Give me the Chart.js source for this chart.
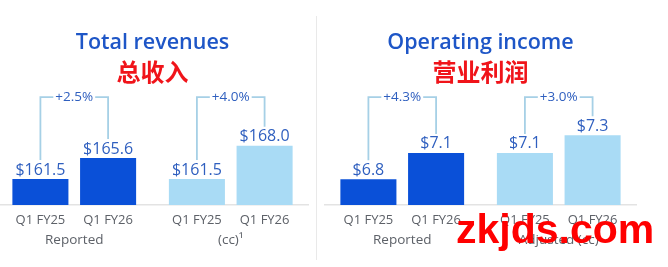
<!DOCTYPE html>
<html>
<head>
<meta charset="utf-8">
<script src="https://cdn.jsdelivr.net/npm/chart.js@4/dist/chart.umd.min.js"></script>
<style>
  html, body { margin: 0; padding: 0; background: #ffffff; }
  body { width: 668px; height: 267px; position: relative; overflow: hidden; }
  .panel { position: absolute; top: 0; width: 313px; height: 267px; }
  #sep { position: absolute; left: 316px; top: 16px; width: 1px; height: 244px; background: #e9e9e9; }
  #wm { position: absolute; left: 456px; top: 209px; font-family: "Liberation Sans", Arial, sans-serif;
        font-weight: bold; font-size: 41px; color: #ff0000; line-height: 1; letter-spacing: 0px; }
</style>
</head>
<body>
<div class="panel" style="left:-4px"><canvas id="rev" width="313" height="267"></canvas></div>
<div id="sep"></div>
<div class="panel" style="left:324px"><canvas id="inc" width="313" height="267"></canvas></div>
<div id="wm">zkjds.com</div>
<script>
// ---- data ----
const periods = ["Q1 FY25", "Q1 FY26"];

const revenueTitle = "Total revenues";
const revenueTitleCn = "总收入";
const revenueGroups = ["Reported", "(cc)¹"];
const revenueFY25 = [161.5, 161.5];
const revenueFY26 = [165.6, 168.0];
const revenueGrowth = ["+2.5%", "+4.0%"];

const incomeTitle = "Operating income";
const incomeTitleCn = "营业利润";
const incomeGroups = ["Reported", "Adjusted (cc)"];
const incomeFY25 = [6.8, 7.1];
const incomeFY26 = [7.1, 7.3];
const incomeGrowth = ["+4.3%", "+3.0%"];

// ---- style ----
const DARK = "#0a50d8";
const LIGHT = "#a9dbf5";
const VALUE_COLOR = "#2f5fbf";
const TITLE_COLOR = "#1e56c7";
const CN_COLOR = "#f0141a";
const BRACKET = "#a6d0e6";
const GRAY = "#5d6168";
const FONT = "'Open Sans', 'Noto Sans', sans-serif";

const overlayPlugin = {
  id: "overlay",
  afterDatasetsDraw(chart, args, opts) {
    const ctx = chart.ctx;
    const area = chart.chartArea;
    const m0 = chart.getDatasetMeta(0);
    const m1 = chart.getDatasetMeta(1);
    ctx.save();
    ctx.textAlign = "center";
    ctx.textBaseline = "middle";
    ctx.fillStyle = VALUE_COLOR;
    ctx.font = "16px " + FONT;
    [m0, m1].forEach((meta, di) => {
      meta.data.forEach((bar, i) => {
        const v = chart.data.datasets[di].data[i];
        ctx.fillText("$" + v.toFixed(1), bar.x, bar.y - 9);
      });
    });
    ctx.fillStyle = GRAY;
    ctx.font = "13px " + FONT;
    [m0, m1].forEach((meta, di) => {
      meta.data.forEach((bar) => {
        ctx.fillText(periods[di], bar.x, area.bottom + 15.5);
      });
    });
    const topY = area.top + 6.6;
    ctx.strokeStyle = BRACKET;
    ctx.lineWidth = 1.8;
    ctx.font = "13.5px " + FONT;
    opts.growth.forEach((g, i) => {
      const a = m0.data[i], b = m1.data[i];
      const cx = (a.x + b.x) / 2;
      const w = ctx.measureText(g).width;
      ctx.beginPath();
      ctx.moveTo(a.x, a.y - 19);
      ctx.lineTo(a.x, topY);
      ctx.lineTo(cx - w / 2 - 2, topY);
      ctx.moveTo(cx + w / 2 + 2, topY);
      ctx.lineTo(b.x, topY);
      ctx.lineTo(b.x, b.y - 19);
      ctx.stroke();
      ctx.fillStyle = VALUE_COLOR;
      ctx.fillText(g, cx, topY);
    });
    ctx.restore();
  }
};

function makeChart(id, title, titleCn, groups, s25, s26, growth, yMin, yMax) {
  return new Chart(document.getElementById(id), {
    type: "bar",
    data: {
      labels: groups,
      datasets: [
        { label: periods[0], data: s25, backgroundColor: [DARK, LIGHT], borderWidth: 0 },
        { label: periods[1], data: s26, backgroundColor: [DARK, LIGHT], borderWidth: 0 }
      ]
    },
    options: {
      responsive: false,
      animation: false,
      layout: { padding: { left: 0, right: 0, top: 0, bottom: 18 } },
      datasets: { bar: { barPercentage: 0.828, categoryPercentage: 0.865 } },
      plugins: {
        legend: { display: false },
        tooltip: { enabled: false },
        title: {
          display: true, text: title, color: TITLE_COLOR,
          font: { family: FONT, size: 21.5, weight: "600" },
          padding: { top: 30, bottom: 2 }
        },
        subtitle: {
          display: true, text: titleCn, color: CN_COLOR,
          font: { family: "'Noto Sans CJK SC', sans-serif", size: 24, weight: "bold" },
          padding: { top: 0, bottom: 4 }
        },
        overlay: { growth: growth }
      },
      scales: {
        x: {
          grid: { display: false, drawTicks: false },
          border: { display: true, color: "#e3e3e3", width: 1.5 },
          ticks: { color: GRAY, font: { family: FONT, size: 13.5 }, padding: 27, maxRotation: 0 },
          afterFit: (scale) => { scale.height = 44; }
        },
        y: {
          display: false,
          min: yMin, max: yMax
        }
      }
    },
    plugins: [overlayPlugin]
  });
}

makeChart("rev", revenueTitle, revenueTitleCn, revenueGroups, revenueFY25, revenueFY26, revenueGrowth, 156.45, 178.76);
makeChart("inc", incomeTitle, incomeTitleCn, incomeGroups, incomeFY25, incomeFY26, incomeGrowth, 6.505, 7.811);
</script>
</body>
</html>
